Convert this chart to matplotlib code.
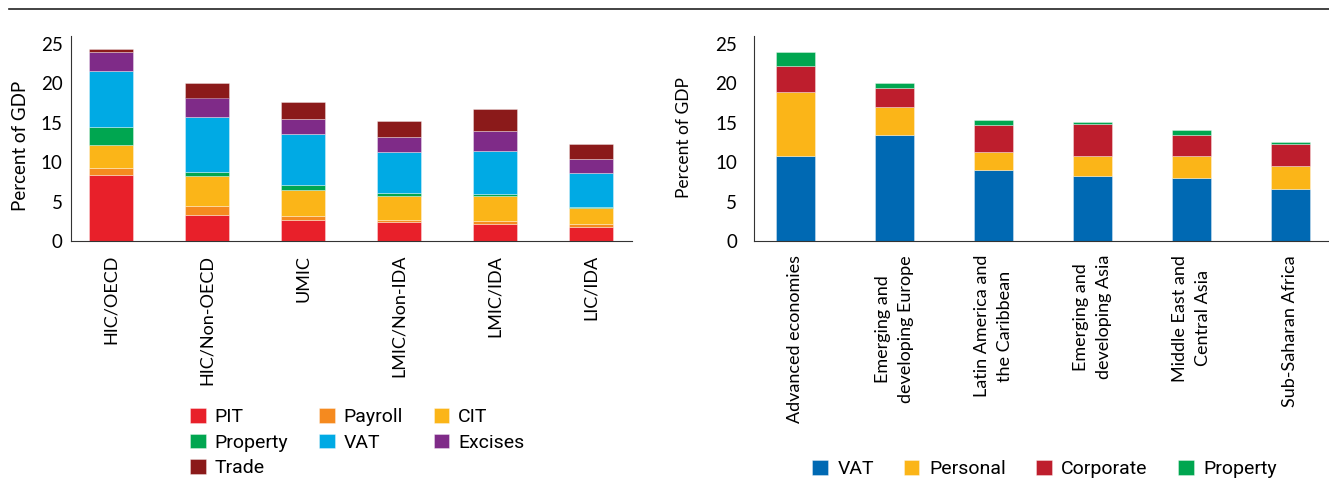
import matplotlib.pyplot as plt
import numpy as np
from matplotlib.lines import Line2D

# left panel: revenue by income group
groups = ["HIC/OECD", "HIC/Non-OECD", "UMIC", "LMIC/Non-IDA", "LMIC/IDA", "LIC/IDA"]
pit = [8.4, 3.3, 2.7, 2.4, 2.1, 1.8]
payroll = [0.8, 1.2, 0.5, 0.3, 0.5, 0.3]
cit = [3.0, 3.7, 3.3, 3.0, 3.1, 2.1]
prop_left = [2.2, 0.5, 0.6, 0.4, 0.2, 0.05]
vat_left = [7.1, 7.0, 6.5, 5.2, 5.5, 4.4]
excises = [2.5, 2.5, 1.9, 1.9, 2.6, 1.7]
trade = [0.3, 1.8, 2.1, 2.0, 2.8, 2.0]

# right panel: revenue by region
regions = ["Advanced economies", "Emerging and\ndeveloping Europe",
           "Latin America and\nthe Caribbean", "Emerging and\ndeveloping Asia",
           "Middle East and\nCentral Asia", "Sub-Saharan Africa"]
vat_right = [10.75, 13.5, 9.05, 8.3, 8.0, 6.65]
personal = [8.15, 3.55, 2.2, 2.5, 2.8, 2.85]
corporate = [3.3, 2.3, 3.45, 4.0, 2.7, 2.8]
prop_right = [1.8, 0.75, 0.7, 0.35, 0.6, 0.3]

plt.rcParams['font.family'] = ['Lato', 'DejaVu Sans']

fig = plt.figure(figsize=(13.29, 4.91), dpi=100)
ax1 = fig.add_axes([71 / 1329, 250 / 491, 561 / 1329, 205 / 491])
ax2 = fig.add_axes([754 / 1329, 250 / 491, 575 / 1329, 205 / 491])

left_series = [("PIT", pit, "#E8202A"), ("Payroll", payroll, "#F58A1F"),
               ("CIT", cit, "#FBB518"), ("Property", prop_left, "#00A650"),
               ("VAT", vat_left, "#00AAE4"), ("Excises", excises, "#7F2B88"),
               ("Trade", trade, "#8B1A1A")]
right_series = [("VAT", vat_right, "#0069B3"), ("Personal", personal, "#FBB518"),
                ("Corporate", corporate, "#BE1E2D"), ("Property", prop_right, "#00A650")]


def stack(ax, cats, series, width):
    x = np.arange(len(cats))
    bottom = np.zeros(len(cats))
    handles = {}
    for name, vals, col in series:
        b = ax.bar(x, vals, width, bottom=bottom, color=col,
                   edgecolor=(1, 1, 1, 0.4), linewidth=0.6, label=name)
        handles[name] = b
        bottom += np.array(vals)
    ax.set_ylim(0, 26)
    ax.set_yticks([0, 5, 10, 15, 20, 25])
    for s in ["top", "right"]:
        ax.spines[s].set_visible(False)
    ax.spines["left"].set_color("#333333")
    ax.spines["bottom"].set_color("#333333")
    ax.tick_params(length=0)
    ax.tick_params(axis="y", labelsize=13.5)
    ax.tick_params(axis="x", pad=10, labelsize=13)
    ax.set_xticks(x)
    ax.set_xticklabels(cats, rotation=90)
    return handles


h1 = stack(ax1, groups, left_series, 0.458)
ax1.set_xlim(-0.417, 5.427)
ax1.tick_params(axis="y", pad=6)
ax1.set_ylabel("Percent of GDP", fontsize=13.5)
ax1.yaxis.set_label_coords(-0.075, 0.463)

h2 = stack(ax2, regions, right_series, 0.394)
ax2.set_xlim(-0.419, 5.389)
ax2.tick_params(axis="y", pad=12)
ax2.set_ylabel("Percent of GDP", fontsize=12.5)
ax2.yaxis.set_label_coords(-0.107, 0.505)

# wider gap between the two lines of the region labels
for tick in ax2.xaxis.get_major_ticks():
    tick.label1.set_linespacing(1.55)

# legends
leg_font = {'family': ['Roboto', 'DejaVu Sans'], 'size': 14}
order = ["PIT", "Property", "Trade", "Payroll", "VAT", "CIT", "Excises"]
fig.legend([h1[k] for k in order], order, loc="upper left",
           bbox_to_anchor=(190 / 1329, 1 - 408 / 491), ncol=3, frameon=False,
           prop=leg_font,
           handlelength=0.8, handleheight=0.8, handletextpad=0.45,
           columnspacing=1.6, labelspacing=0.38, borderpad=0, borderaxespad=0)

names2 = [n for n, _, _ in right_series]
fig.legend([h2[k] for k in names2], names2, loc="upper left",
           bbox_to_anchor=(812 / 1329, 1 - 460 / 491), ncol=4, frameon=False,
           prop=leg_font,
           handlelength=0.8, handleheight=0.8, handletextpad=0.5,
           columnspacing=1.55, borderpad=0, borderaxespad=0)

fig.add_artist(Line2D([9 / 1329, 1], [1 - 9 / 491, 1 - 9 / 491],
                      transform=fig.transFigure, color="#222222", linewidth=1.2))

fig.savefig("out.png", dpi=100)
